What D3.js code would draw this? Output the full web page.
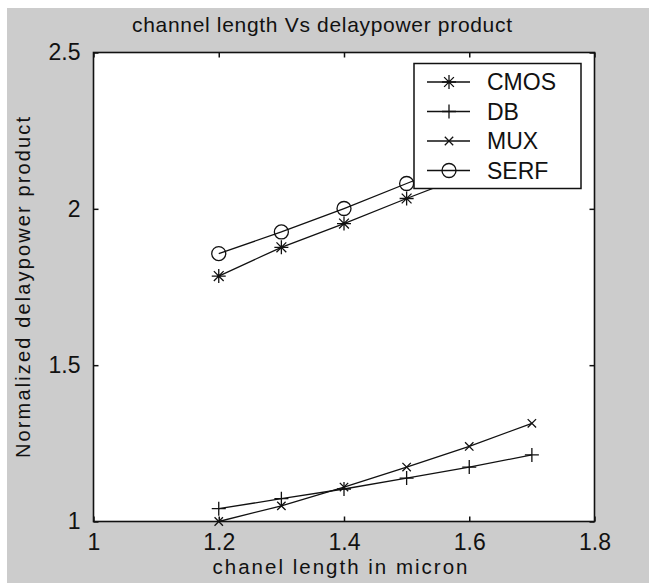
<!DOCTYPE html>
<html>
<head>
<meta charset="utf-8">
<script src="https://cdn.jsdelivr.net/npm/d3@7"></script>
<style>
  body { margin: 0; background: #fff; }
  text { font-family: "Liberation Sans", Arial, sans-serif; fill: #111; }
</style>
</head>
<body>
<div id="chart"></div>
<script>
// data
const lengths = [1.2, 1.3, 1.4, 1.5, 1.6, 1.7];
const cmos = [1.785, 1.877, 1.953, 2.033, 2.11, 2.19];
const db = [1.041, 1.073, 1.104, 1.139, 1.174, 1.213];
const mux = [1.0, 1.050, 1.110, 1.174, 1.240, 1.314];
const serf = [1.857, 1.926, 2.001, 2.081, 2.16, 2.24];
const seriesNames = ["CMOS", "DB", "MUX", "SERF"];
const markerTypes = ["star", "plus", "cross", "circle"];
const xTicks = [1, 1.2, 1.4, 1.6, 1.8];
const yTicks = [1, 1.5, 2, 2.5];

const W = 649, H = 583;
const plot = {left: 93.5, right: 594.5, top: 52.5, bottom: 521.5};

const svg = d3.select("#chart")
    .append("svg")
    .attr("width", W)
    .attr("height", H);

// grey figure background
svg.append("rect")
    .attr("x", 7).attr("y", 8)
    .attr("width", W - 7).attr("height", H - 8)
    .attr("fill", "#cccccc");

const x = d3.scaleLinear().domain([1, 1.8]).range([plot.left, plot.right]);
const y = d3.scaleLinear().domain([1, 2.5]).range([plot.bottom, plot.top]);

svg.append("rect")
    .attr("x", plot.left).attr("y", plot.top)
    .attr("width", plot.right - plot.left)
    .attr("height", plot.bottom - plot.top)
    .attr("fill", "#fff");

// axes, ticks inward on all four sides
const tk = 5;
svg.append("g")
    .attr("transform", `translate(0,${plot.bottom})`)
    .call(d3.axisBottom(x).tickValues(xTicks).tickSizeInner(-tk).tickSizeOuter(0).tickPadding(12)
        .tickFormat(d => d3.format("")(+d.toFixed(1))))
    .call(g => g.selectAll("text").attr("font-size", 23).attr("dy", "0.72em"));
svg.append("g")
    .attr("transform", `translate(0,${plot.top})`)
    .call(d3.axisTop(x).tickValues(xTicks).tickSizeInner(-tk).tickSizeOuter(0).tickFormat(""));
svg.append("g")
    .attr("transform", `translate(${plot.left},0)`)
    .call(d3.axisLeft(y).tickValues(yTicks).tickSizeInner(-tk).tickSizeOuter(0).tickPadding(13)
        .tickFormat(d => d3.format("")(d)))
    .call(g => g.selectAll("text").attr("font-size", 23));
svg.append("g")
    .attr("transform", `translate(${plot.right},0)`)
    .call(d3.axisRight(y).tickValues(yTicks).tickSizeInner(-tk).tickSizeOuter(0).tickFormat(""));

svg.selectAll(".domain").remove();
svg.selectAll(".tick line").attr("stroke", "#111").attr("stroke-width", 1.5);
svg.selectAll(".tick text").attr("fill", "#222").attr("font-family", "Liberation Sans, Arial, sans-serif");

svg.append("rect")
    .attr("x", plot.left).attr("y", plot.top)
    .attr("width", plot.right - plot.left)
    .attr("height", plot.bottom - plot.top)
    .attr("fill", "none")
    .attr("stroke", "#111")
    .attr("stroke-width", 1.6);

// marker shapes
function markerPath(type, s) {
  const p = d3.path();
  if (type === "plus") {
    p.moveTo(-s, 0); p.lineTo(s, 0); p.moveTo(0, -s); p.lineTo(0, s);
  } else if (type === "cross") {
    const c = s * 0.7;
    p.moveTo(-c, -c); p.lineTo(c, c); p.moveTo(-c, c); p.lineTo(c, -c);
  } else if (type === "star") {
    const c = s * 0.7;
    p.moveTo(-s, 0); p.lineTo(s, 0); p.moveTo(0, -s); p.lineTo(0, s);
    p.moveTo(-c, -c); p.lineTo(c, c); p.moveTo(-c, c); p.lineTo(c, -c);
  } else {
    p.moveTo(s, 0); p.arc(0, 0, s, 0, 2 * Math.PI);
  }
  return p.toString();
}
const markerSize = {star: 7, plus: 7, cross: 6, circle: 7};

const allSeries = [cmos, db, mux, serf];
const line = d3.line().x((d, i) => x(lengths[i])).y(d => y(d));

allSeries.forEach(function (vals, k) {
  const g = svg.append("g");
  g.append("path")
      .datum(vals)
      .attr("fill", "none")
      .attr("stroke", "#111")
      .attr("stroke-width", 1.3)
      .attr("d", line);
  g.selectAll("path.m")
      .data(vals)
      .join("path")
      .attr("class", "m")
      .attr("transform", (d, i) => `translate(${x(lengths[i])},${y(d)})`)
      .attr("d", markerPath(markerTypes[k], markerSize[markerTypes[k]]))
      .attr("fill", "none")
      .attr("stroke", "#111")
      .attr("stroke-width", 1.3);
});

// legend
const leg = svg.append("g");
leg.append("rect")
    .attr("x", 414).attr("y", 63.5)
    .attr("width", 167).attr("height", 125)
    .attr("fill", "#fff")
    .attr("stroke", "#111")
    .attr("stroke-width", 1.5);
seriesNames.forEach(function (name, k) {
  const ly = 82 + k * 29.5;
  leg.append("line")
      .attr("x1", 427).attr("x2", 470)
      .attr("y1", ly).attr("y2", ly)
      .attr("stroke", "#111").attr("stroke-width", 1.3);
  leg.append("path")
      .attr("transform", `translate(449,${ly})`)
      .attr("d", markerPath(markerTypes[k], markerSize[markerTypes[k]]))
      .attr("fill", "none").attr("stroke", "#111").attr("stroke-width", 1.3);
  leg.append("text")
      .attr("x", 487).attr("y", ly)
      .attr("dy", "0.36em")
      .attr("font-size", 23)
      .attr("fill", "#222")
      .text(name);
});

// titles
svg.append("text")
    .attr("x", 132).attr("y", 32)
    .attr("font-size", 21)
    .attr("textLength", 380)
    .attr("lengthAdjust", "spacing")
    .text("channel length Vs delaypower product");

svg.append("text")
    .attr("x", 212.5).attr("y", 574)
    .attr("font-size", 20.5)
    .attr("textLength", 255)
    .attr("lengthAdjust", "spacing")
    .text("chanel length in micron");

svg.append("text")
    .attr("transform", "translate(30,458) rotate(-90)")
    .attr("font-size", 20)
    .attr("textLength", 341)
    .attr("lengthAdjust", "spacing")
    .text("Normalized delaypower product");
</script>
</body>
</html>
